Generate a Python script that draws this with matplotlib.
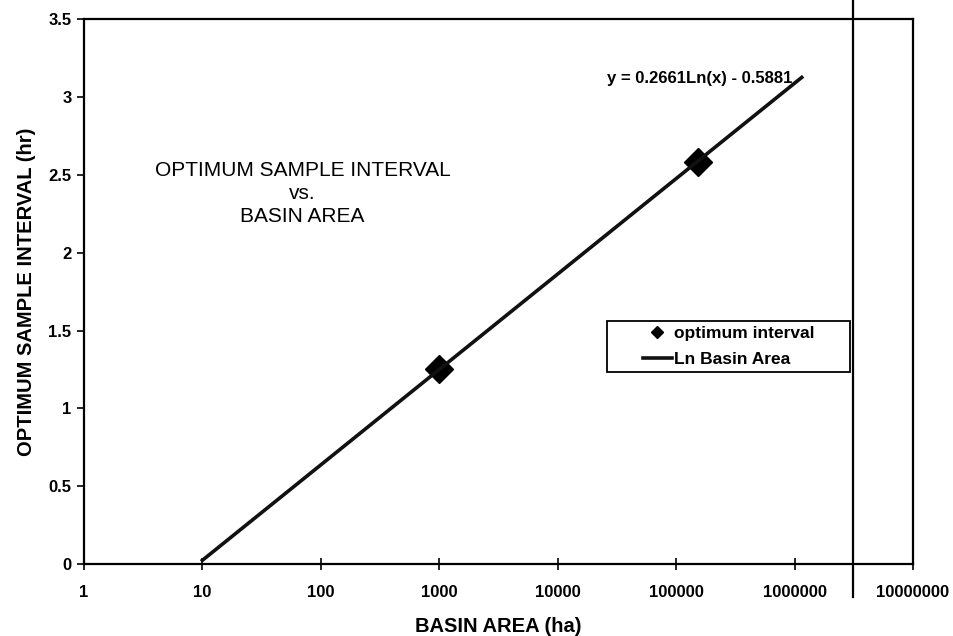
import numpy as np
import matplotlib
matplotlib.use("Agg")
import matplotlib.pyplot as plt
from matplotlib.lines import Line2D
from matplotlib.patches import Rectangle

plt.rcParams['font.family'] = ['Liberation Sans', 'DejaVu Sans']

# data
basin_area = [1000, 153000]          # ha
optimum_interval = [1.25, 2.58]      # hr

# log trendline shown on the chart: y = a*ln(x) + b
trend_a = 0.2661
trend_b = -0.5881
trend_range = [10, 1150000]

x_ticks = [1, 10, 100, 1000, 10000, 100000, 1000000, 10000000]
x_ticklabels = ['1', '10', '100', '1000', '10000', '100000', '1000000', '10000000']
y_ticks = [0, 0.5, 1, 1.5, 2, 2.5, 3, 3.5]
y_ticklabels = ['0', '0.5', '1', '1.5', '2', '2.5', '3', '3.5']

fig = plt.figure(figsize=(9.54, 6.36), dpi=100)
ax = fig.add_axes([0.088, 0.113, 0.869, 0.857])

# trendline (straight on a log x axis)
tx = np.array(trend_range, dtype=float)
ty = trend_a * np.log(tx) + trend_b

ax.plot(basin_area, optimum_interval, linestyle='none', marker='D',
        markersize=14.5, color='black', zorder=3)
ax.plot(tx, ty, color='#111111', linewidth=2.6, zorder=4)

ax.set_xscale('log')
ax.set_xlim(1, 1e7)
ax.set_ylim(0, 3.5)
ax.set_xticks(x_ticks)
ax.set_xticklabels(x_ticklabels)
ax.xaxis.set_minor_locator(matplotlib.ticker.NullLocator())
ax.set_yticks(y_ticks)
ax.set_yticklabels(y_ticklabels)

for lab in ax.get_xticklabels() + ax.get_yticklabels():
    lab.set_fontweight('bold')
    lab.set_fontsize(12)
ax.tick_params(axis='x', direction='inout', length=8, width=1.2, pad=11)
ax.tick_params(axis='y', direction='out', length=5, width=1.2, pad=4)

for sp in ax.spines.values():
    sp.set_linewidth(1.6)

ax.set_xlabel('BASIN AREA (ha)', fontsize=14.5, fontweight='bold', labelpad=12)
ax.set_ylabel('OPTIMUM SAMPLE INTERVAL (hr)', fontsize=14.5, fontweight='bold', labelpad=9)

ax.text(70, 2.38, 'OPTIMUM SAMPLE INTERVAL\nvs.\nBASIN AREA', ha='center', va='center',
        fontsize=15, linespacing=1.25)
ax.text(9.5e5, 3.12, 'y = 0.2661Ln(x) - 0.5881', ha='right', va='center',
        fontsize=12, fontweight='bold')

# stray vertical line from the scanned page
ax.axvline(3.1e6, ymin=-0.06, ymax=1.04, color='black', linewidth=1.6, clip_on=False)

# legend: box drawn separately so the entries sit centred in a wide frame
box_cx, box_cy, box_w, box_h = 0.7775, 0.399, 0.293, 0.0936
ax.add_patch(Rectangle((box_cx - box_w / 2, box_cy - box_h / 2), box_w, box_h,
                       transform=ax.transAxes, facecolor='white', edgecolor='black',
                       linewidth=1.3, zorder=5))
handles = [Line2D([], [], linestyle='none', marker='D', markersize=6.5, color='black'),
           Line2D([], [], color='#111111', linewidth=2.6)]
leg = ax.legend(handles, ['optimum interval', 'Ln Basin Area'], loc='center',
                bbox_to_anchor=(box_cx, box_cy), frameon=False,
                borderpad=0, handlelength=1.7, handletextpad=0.1,
                labelspacing=0.6, borderaxespad=0,
                prop={'weight': 'bold', 'size': 12.5})
leg.set_zorder(6)

fig.savefig('out.png', dpi=100)
